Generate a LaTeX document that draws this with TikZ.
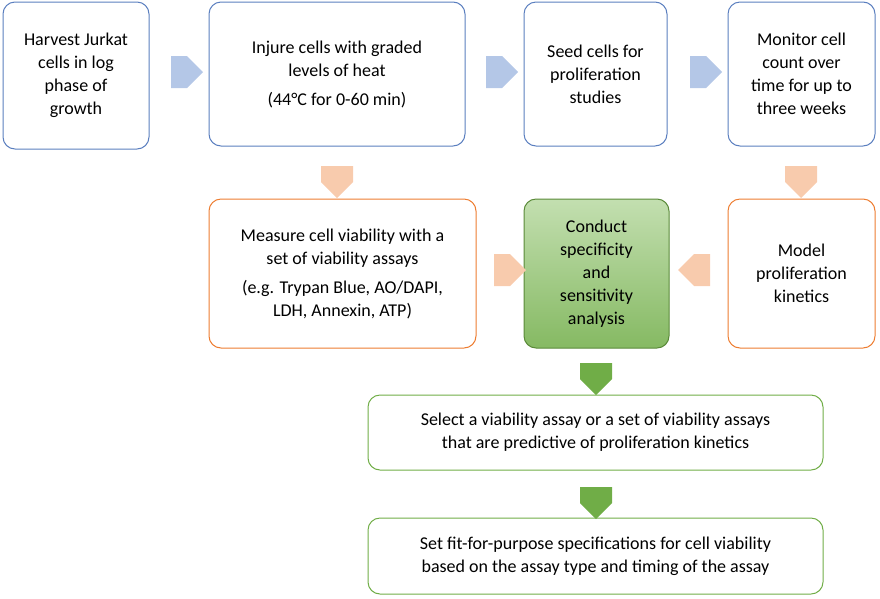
\documentclass[tikz,border=0pt]{standalone}
\usepackage{fontspec}
\setmainfont{Carlito}
\usetikzlibrary{shapes.arrows}
\definecolor{boxblue}{HTML}{5B7FBF}
\definecolor{boxorange}{HTML}{ED7D31}
\definecolor{boxgreen}{HTML}{70AD47}
\definecolor{fillgreen}{HTML}{A9D18E}
\definecolor{arrblue}{HTML}{B4C7E7}
\definecolor{arrorange}{HTML}{F8CBAD}
\tikzset{
  stage/.style={draw, line width=1pt, rounded corners=12pt, align=center,
    font=\fontsize{18}{23}\selectfont, inner sep=0pt},
  blockarrow/.style={single arrow, draw=none, minimum height=32pt,
    minimum width=32pt, single arrow head extend=0pt, inner sep=0pt,
    single arrow tip angle=90}
}
\begin{document}
\begin{tikzpicture}[x=1pt, y=-1pt]
    \useasboundingbox (0,0) rectangle (880,598);

    % first row
    \node[stage, draw=boxblue, minimum width=146pt, minimum height=147pt] (harvest) at (76,75.5)
      {Harvest Jurkat\\cells in log\\phase of\\growth};
    \node[stage, draw=boxblue, minimum width=256pt, minimum height=144pt] (injure) at (337,74)
      {Injure cells with graded\\levels of heat\\[6pt](44°C for 0-60 min)};
    \node[stage, draw=boxblue, minimum width=143pt, minimum height=144pt] (seed) at (595.5,74)
      {Seed cells for\\proliferation\\studies};
    \node[stage, draw=boxblue, minimum width=147pt, minimum height=144pt] (monitor) at (801.5,74)
      {Monitor cell\\count over\\time for up to\\three weeks};

    % second row
    \node[stage, draw=boxorange, minimum width=267pt, minimum height=149pt] (measure) at (342.5,273.5)
      {Measure cell viability with a\\set of viability assays\\[6pt](e.g. Trypan Blue, AO/DAPI,\\LDH, Annexin, ATP)};
    \node[stage, draw=boxgreen!80!black, top color=fillgreen!70, bottom color=boxgreen!85,
      minimum width=145pt, minimum height=149pt] (conduct) at (596.5,273.5)
      {Conduct\\specificity\\and\\sensitivity\\analysis};
    \node[stage, draw=boxorange, minimum width=147pt, minimum height=149pt] (model) at (801.5,273.5)
      {Model\\proliferation\\kinetics};

    % bottom rows
    \node[stage, draw=boxgreen, minimum width=455pt, minimum height=75pt] (select) at (595.5,432.5)
      {Select a viability assay or a set of viability assays\\that are predictive of proliferation kinetics};
    \node[stage, draw=boxgreen, minimum width=455pt, minimum height=76pt] (spec) at (595.5,556)
      {Set fit-for-purpose specifications for cell viability\\based on the assay type and timing of the assay};

    % block arrows
    \node[blockarrow, fill=arrblue] (a1) at (179,72) {};
    \node[blockarrow, fill=arrblue] (a2) at (494,72) {};
    \node[blockarrow, fill=arrblue] (a3) at (698,72) {};
    \node[blockarrow, fill=arrorange, rotate=-90] (a4) at (337,174) {};
    \node[blockarrow, fill=arrorange, rotate=-90] (a5) at (801,174) {};
    \node[blockarrow, fill=arrorange] (a6) at (502,270) {};
    \node[blockarrow, fill=arrorange, rotate=180] (a7) at (702,270) {};
    \node[blockarrow, fill=boxgreen, rotate=-90] (a8) at (596,371) {};
    \node[blockarrow, fill=boxgreen, rotate=-90] (a9) at (596,495) {};
\end{tikzpicture}
\end{document}
